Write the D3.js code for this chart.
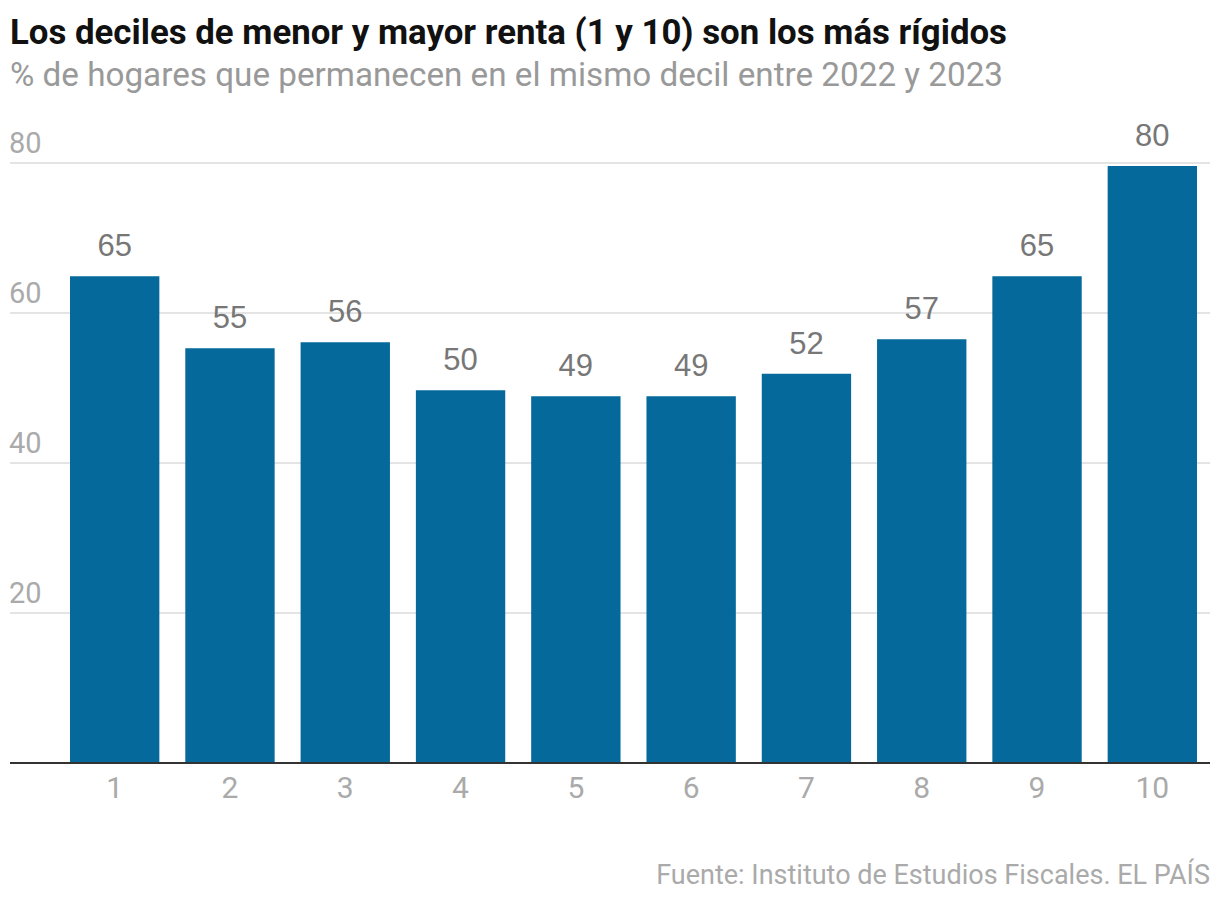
<!DOCTYPE html>
<html><head><meta charset="utf-8">
<script src="https://cdn.jsdelivr.net/npm/d3@7"></script>
<style>body{margin:0;background:#fff}</style>
</head><body>
<svg id="c" width="1220" height="904"></svg>
<script>
const categories = ["1","2","3","4","5","6","7","8","9","10"];
const values = [64.9, 55.3, 56.1, 49.7, 48.9, 48.9, 51.9, 56.5, 64.9, 79.6];
const labels = ["65","55","56","50","49","49","52","57","65","80"];
const yTicks = [20, 40, 60, 80];

const svg = d3.select("#c");
const font = "'Roboto','Liberation Sans',sans-serif";
const labelFont = "'Liberation Sans','Arial',sans-serif";
const x = d3.scaleBand().domain(categories).range([70, 1197]).paddingInner(0.225).paddingOuter(0);
const y = d3.scaleLinear().domain([0, 80]).range([763, 163]);

svg.append("text").attr("x", 10).attr("y", 44).text("Los deciles de menor y mayor renta (1 y 10) son los más rígidos")
  .attr("font-family", font).attr("font-weight", "bold").attr("font-size", 34.8).attr("fill", "#111")
  .attr("textLength", 997).attr("lengthAdjust", "spacingAndGlyphs");
svg.append("text").attr("x", 10).attr("y", 86).text("% de hogares que permanecen en el mismo decil entre 2022 y 2023")
  .attr("font-family", font).attr("font-size", 33).attr("fill", "#999")
  .attr("textLength", 993).attr("lengthAdjust", "spacingAndGlyphs");

const grid = svg.append("g");
grid.selectAll("line").data(yTicks).join("line")
  .attr("x1", 10).attr("x2", 1210).attr("y1", d => y(d)).attr("y2", d => y(d))
  .attr("stroke", "#e4e4e4").attr("stroke-width", 2);
grid.selectAll("text").data(yTicks).join("text")
  .attr("x", 9).attr("y", d => y(d) - 10).text(d => d)
  .attr("font-family", font).attr("font-size", 29).attr("fill", "#aaa");

svg.selectAll("rect.bar").data(values).join("rect").attr("class", "bar")
  .attr("x", (d, i) => x(categories[i])).attr("width", x.bandwidth())
  .attr("y", d => y(d)).attr("height", d => y(0) - y(d)).attr("fill", "#06699b");

svg.selectAll("text.val").data(values).join("text").attr("class", "val")
  .attr("x", (d, i) => x(categories[i]) + x.bandwidth() / 2).attr("y", d => y(d) - 20)
  .attr("text-anchor", "middle").text((d, i) => labels[i])
  .attr("font-family", labelFont).attr("font-size", 31).attr("fill", "#777");

svg.append("line").attr("x1", 10).attr("x2", 1210).attr("y1", y(0)).attr("y2", y(0))
  .attr("stroke", "#333").attr("stroke-width", 2);

const xAxis = d3.axisBottom(x).tickSize(0).tickPadding(14);
const gx = svg.append("g").attr("transform", `translate(0,${y(0)})`).call(xAxis);
gx.select(".domain").remove();
gx.selectAll("text").attr("font-family", font).attr("font-size", 30).attr("fill", "#aaa");

svg.append("text").attr("x", 1210).attr("y", 884).attr("text-anchor", "end")
  .text("Fuente: Instituto de Estudios Fiscales. EL PAÍS")
  .attr("font-family", font).attr("font-size", 27).attr("fill", "#aaa");
</script>
</body></html>
